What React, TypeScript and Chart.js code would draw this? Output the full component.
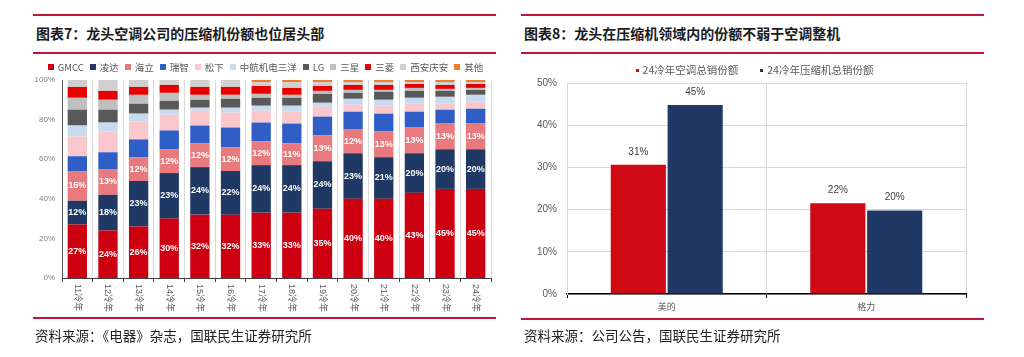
import React, { useEffect, useRef } from 'react';
import { Chart, registerables } from 'chart.js';
Chart.register(...registerables);

// ---------- Chart 7 data ----------
const years = ['11冷年', '12冷年', '13冷年', '14冷年', '15冷年', '16冷年', '17冷年', '18冷年', '19冷年', '20冷年', '21冷年', '22冷年', '23冷年', '24冷年'];
const gmcc = [27, 24, 26, 30, 32, 32, 33, 33, 35, 40, 40, 43, 45, 45];
const lingda = [12, 18, 23, 23, 24, 22, 24, 24, 24, 23, 21, 20, 20, 20];
const haili = [15, 13, 12, 12, 12, 12, 12, 11, 13, 12, 13, 13, 13, 13];
const ruizhi = [7.5, 8.5, 9, 9.5, 9, 10, 9.5, 10, 9.5, 9, 9, 8, 7, 7.5];
const songxia = [10, 10.5, 9, 8, 7.5, 7.5, 6, 6, 5, 3.5, 4, 4, 3, 3.5];
const zhonghang = [5.5, 4.5, 4, 2.5, 1.5, 2.5, 2.5, 3, 2, 3, 3, 3, 3.5, 3.5];
const lg = [8, 6.5, 5, 4.5, 4, 4.5, 4, 4, 4.5, 3, 4, 3.5, 3, 2.5];
const sanxing = [6, 5, 4.5, 4, 2.5, 2, 2, 1.5, 1.5, 1.5, 1, 1.5, 1, 1];
const sanling = [5.5, 4.5, 4, 4, 4, 4, 4, 3.5, 2.5, 2.5, 2.5, 2, 2, 2];
const xian = [3.5, 5.5, 3.5, 2.5, 3.5, 3.5, 2, 3, 2, 1.5, 1.5, 1, 1.5, 1];
const qita = [0, 0, 0, 0, 0, 0, 1, 1, 1, 1, 1, 1, 1, 1];
const leftTicks = [0, 20, 40, 60, 80, 100];

// ---------- Chart 8 data ----------
const companies = ['美的', '格力'];
const acShare = [30.6, 21.5];
const compShare = [44.8, 19.8];
const rightTicks = [0, 10, 20, 30, 40, 50];

const RED_LINE = '#C0143C';
const FONT = '"Liberation Sans", "Noto Sans CJK SC", sans-serif';
const CJK = '"Noto Sans CJK SC", "Liberation Sans", sans-serif';

const customLegend = {
  id: 'customLegend',
  afterDraw(chart: any, _args: any, opts: any) {
    const ctx = chart.ctx;
    ctx.save();
    ctx.font = opts.font;
    const items = chart.data.datasets.map((ds: any) => ({
      text: ds.label,
      color: ds.backgroundColor,
      w: opts.box + opts.textGap + ctx.measureText(ds.label).width,
    }));
    const total = items.reduce((a: number, it: any) => a + it.w, 0) + opts.itemGap * (items.length - 1);
    let x = opts.cx - total / 2;
    ctx.textBaseline = 'middle';
    ctx.textAlign = 'left';
    items.forEach((it: any) => {
      ctx.fillStyle = it.color;
      ctx.fillRect(Math.round(x), Math.round(opts.cy - opts.box / 2), opts.box, opts.box);
      ctx.fillStyle = opts.color;
      ctx.fillText(it.text, x + opts.box + opts.textGap, opts.cy);
      x += it.w + opts.itemGap;
    });
    ctx.restore();
  },
};

const inBarLabels = {
  id: 'inBarLabels',
  afterDatasetsDraw(chart: any) {
    const ctx = chart.ctx;
    ctx.save();
    ctx.font = 'bold 9px ' + FONT;
    ctx.fillStyle = '#ffffff';
    ctx.textAlign = 'center';
    ctx.textBaseline = 'middle';
    for (let d = 0; d < 3; d++) {
      const meta = chart.getDatasetMeta(d);
      meta.data.forEach((el: any, i: number) => {
        const v = chart.data.datasets[d].data[i];
        ctx.fillText(Math.round(v) + '%', el.x, (el.y + el.base) / 2);
      });
    }
    ctx.restore();
  },
};

const rotatedXLabels = {
  id: 'rotatedXLabels',
  afterDraw(chart: any) {
    const xs = chart.scales.x;
    const ctx = chart.ctx;
    ctx.save();
    ctx.font = '9px ' + FONT;
    ctx.fillStyle = '#595959';
    ctx.textAlign = 'left';
    ctx.textBaseline = 'middle';
    chart.data.labels.forEach((lab: string, i: number) => {
      const x = xs.getPixelForValue(i);
      ctx.save();
      ctx.translate(x, xs.top + 6);
      ctx.rotate(Math.PI / 2);
      ctx.fillText(lab, 0, 0);
      ctx.restore();
    });
    ctx.restore();
  },
};

const topLabels = {
  id: 'topLabels',
  afterDatasetsDraw(chart: any) {
    const ctx = chart.ctx;
    ctx.save();
    ctx.font = '10px ' + FONT;
    ctx.fillStyle = '#404040';
    ctx.textAlign = 'center';
    ctx.textBaseline = 'middle';
    chart.data.datasets.forEach((ds: any, d: number) => {
      chart.getDatasetMeta(d).data.forEach((el: any, i: number) => {
        ctx.fillText(Math.round(ds.data[i]) + '%', el.x, el.y - 13);
      });
    });
    ctx.restore();
  },
};

function LeftChart() {
  const ref = useRef<HTMLCanvasElement>(null);
  useEffect(() => {
    const series: [string, number[], string][] = [
      ['GMCC', gmcc, '#CC0010'],
      ['凌达', lingda, '#1F3864'],
      ['海立', haili, '#E8797C'],
      ['瑞智', ruizhi, '#2E5EC6'],
      ['松下', songxia, '#FAC8CC'],
      ['中航机电三洋', zhonghang, '#C6DAF0'],
      ['LG', lg, '#595959'],
      ['三星', sanxing, '#BFBFBF'],
      ['三菱', sanling, '#E60000'],
      ['西安庆安', xian, '#D0D0D0'],
      ['其他', qita, '#ED7D31'],
    ];
    const chart = new Chart(ref.current!, {
      type: 'bar',
      data: {
        labels: years,
        datasets: series.map(([label, data, color]) => ({
          label,
          data,
          backgroundColor: color,
          borderWidth: 0,
          barPercentage: 0.63,
          categoryPercentage: 1,
        })),
      },
      options: {
        animation: false,
        responsive: false,
        devicePixelRatio: 1,
        layout: { padding: { left: 0, right: 5, top: 24, bottom: 0 } },
        plugins: {
          tooltip: { enabled: false },
          legend: { display: false },
          customLegend: { cx: 232.5, cy: 11, box: 6, textGap: 4, itemGap: 6, color: '#595959', font: '9.5px ' + CJK },
        },
        scales: {
          x: {
            stacked: true,
            offset: true,
            grid: { offset: true, color: '#D9D9D9', tickColor: '#404040', tickLength: 4, lineWidth: 1 },
            border: { color: '#404040', width: 1 },
            ticks: { display: false },
            afterFit: (s: any) => { s.height = 40; },
          },
          y: {
            stacked: true,
            min: 0,
            max: 100,
            afterBuildTicks: (s: any) => { s.ticks = leftTicks.map((v) => ({ value: v })); },
            grid: { display: false, drawTicks: false },
            border: { color: '#595959', width: 1 },
            ticks: {
              padding: 7,
              color: '#7F7F7F',
              font: { size: 8, family: FONT },
              callback: (v: any) => v + '%',
            },
            afterFit: (s: any) => { s.width = 29; },
          },
        },
      },
      plugins: [inBarLabels, rotatedXLabels, customLegend],
    } as any);
    return () => chart.destroy();
  }, []);
  return <canvas ref={ref} width={463} height={262} style={{ position: 'absolute', left: 33, top: 56, width: 463, height: 262 }} />;
}

function RightChart() {
  const ref = useRef<HTMLCanvasElement>(null);
  useEffect(() => {
    const chart = new Chart(ref.current!, {
      type: 'bar',
      data: {
        labels: companies,
        datasets: [
          { label: '24冷年空调总销份额', data: acShare, backgroundColor: '#D00A14', borderWidth: 0, barPercentage: 0.97, categoryPercentage: 0.57 },
          { label: '24冷年压缩机总销份额', data: compShare, backgroundColor: '#203864', borderWidth: 0, barPercentage: 0.97, categoryPercentage: 0.57 },
        ],
      },
      options: {
        animation: false,
        responsive: false,
        devicePixelRatio: 1,
        layout: { padding: { left: 0, right: 18, top: 27, bottom: 0 } },
        plugins: {
          tooltip: { enabled: false },
          legend: { display: false },
          customLegend: { cx: 233.5, cy: 14, box: 3, textGap: 4, itemGap: 22, color: '#595959', font: '10.5px ' + CJK },
        },
        scales: {
          x: {
            offset: true,
            grid: { offset: true, color: '#D9D9D9', tickColor: '#000000', tickLength: 4 },
            border: { color: '#000000', width: 1.5 },
            ticks: { color: '#595959', font: { size: 9, family: CJK }, padding: 3 },
            afterFit: (s: any) => { s.height = 25; },
          },
          y: {
            min: 0,
            max: 50,
            afterBuildTicks: (s: any) => { s.ticks = rightTicks.map((v) => ({ value: v })); },
            grid: { color: '#D9D9D9', drawTicks: false },
            border: { color: '#D9D9D9', width: 1 },
            ticks: {
              padding: 10,
              color: '#595959',
              font: { size: 10, family: FONT },
              callback: (v: any) => v + '%',
            },
            afterFit: (s: any) => { s.width = 46; },
          },
        },
      },
      plugins: [topLabels, customLegend],
    } as any);
    return () => chart.destroy();
  }, []);
  return <canvas ref={ref} width={463} height={263} style={{ position: 'absolute', left: 521, top: 56, width: 463, height: 263 }} />;
}

const line = (left: number, top: number, width: number) => (
  <div style={{ position: 'absolute', left, top, width, height: 2, background: RED_LINE }} />
);

export default function App() {
  return (
    <div style={{ position: 'absolute', left: 0, top: 0, width: 1024, height: 357, background: '#fff', overflow: 'hidden', fontFamily: CJK }}>
      {line(33, 14, 463)}
      <div style={{ position: 'absolute', left: 36, top: 24, fontSize: 14, fontWeight: 700, lineHeight: '18px', color: '#1a1a1a', whiteSpace: 'nowrap' }}>图表7：龙头空调公司的压缩机份额也位居头部</div>
      {line(33, 52, 463)}
      <LeftChart />
      {line(33, 317, 463)}
      <div style={{ position: 'absolute', left: 35, top: 326, fontSize: 13.5, lineHeight: '18px', color: '#222', whiteSpace: 'nowrap' }}>资料来源：《电器》杂志，国联民生证券研究所</div>

      {line(521, 14, 463)}
      <div style={{ position: 'absolute', left: 524, top: 24, fontSize: 14, fontWeight: 700, lineHeight: '18px', color: '#1a1a1a', whiteSpace: 'nowrap' }}>图表8：龙头在压缩机领域内的份额不弱于空调整机</div>
      {line(521, 52, 463)}
      <RightChart />
      {line(521, 318, 463)}
      <div style={{ position: 'absolute', left: 524, top: 326, fontSize: 13.5, lineHeight: '18px', color: '#222', whiteSpace: 'nowrap' }}>资料来源：公司公告，国联民生证券研究所</div>
    </div>
  );
}
